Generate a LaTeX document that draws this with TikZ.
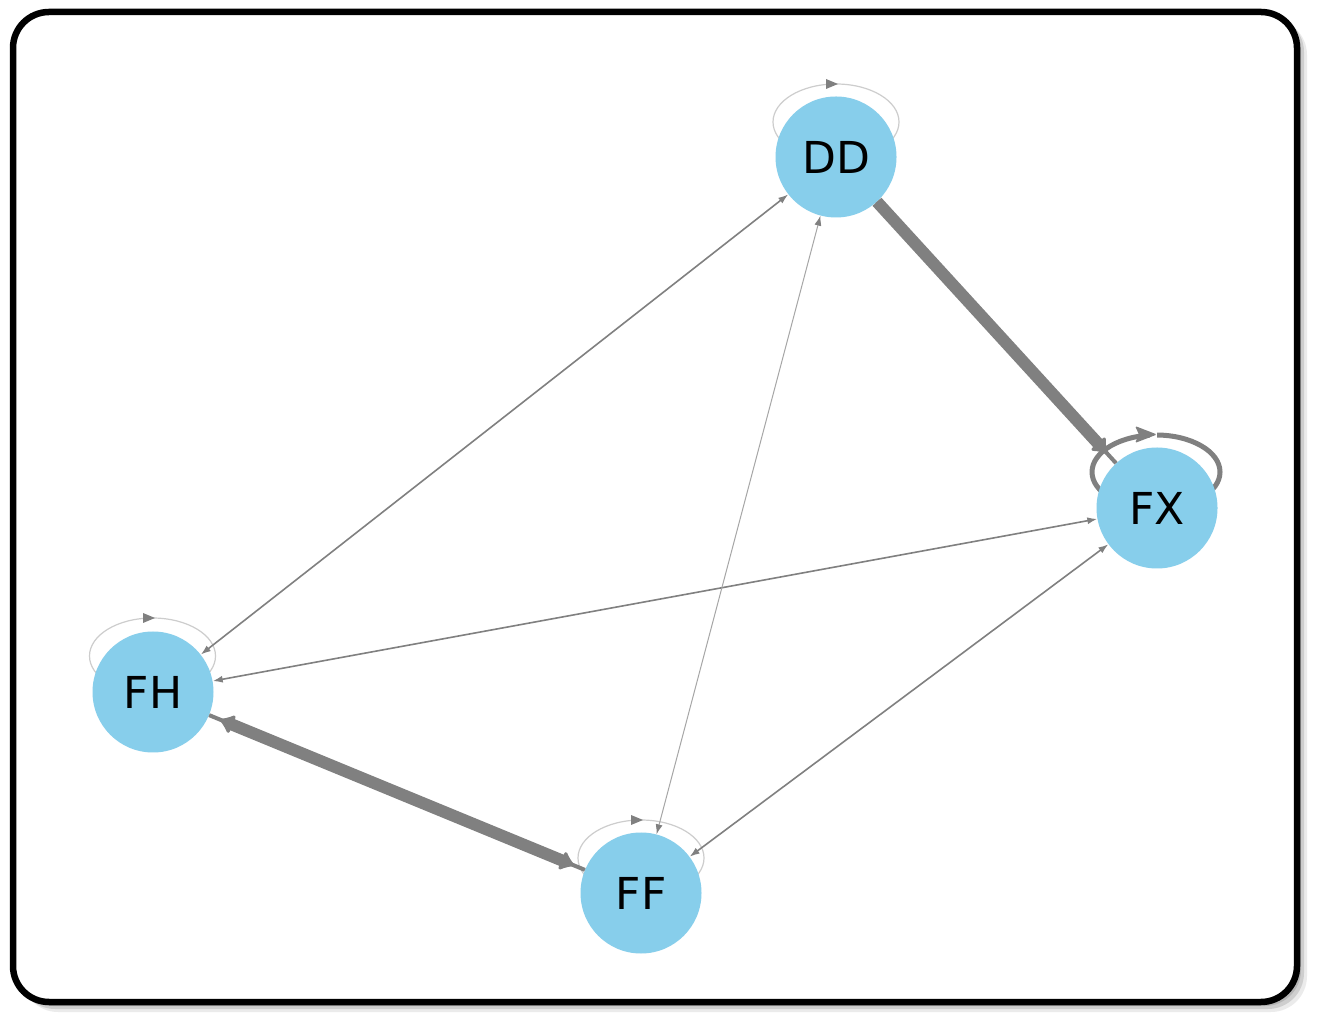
\documentclass[tikz,border=0pt]{standalone}
\usepackage{fontspec}
\setmainfont{DejaVu Sans}
\usetikzlibrary{arrows.meta}
\definecolor{nodeblue}{RGB}{135,206,235}
\definecolor{edgegray}{RGB}{128,128,128}
\definecolor{loopgray}{RGB}{205,205,205}
\tikzset{
  vertex/.style={circle, fill=nodeblue, minimum size=121pt, inner sep=0pt, font=\fontsize{44}{50}\selectfont},
  thinedge/.style={draw=edgegray, line width=1.6pt, {Latex[length=10pt,width=7pt]}-{Latex[length=10pt,width=7pt]}},
  fadededge/.style={draw=edgegray!70, line width=1pt, {Latex[length=10pt,width=7pt,color=edgegray]}-{Latex[length=10pt,width=7pt,color=edgegray]}},
  heavyedge/.style={draw=edgegray, line width=12pt},
  heavystub/.style={draw=edgegray, line width=4pt},
  heavyend/.style={-{Latex[round,length=15pt,width=24pt]}},
  heavyboth/.style={{Latex[round,length=15pt,width=24pt]}-{Latex[round,length=15pt,width=24pt]}},
  lightloop/.style={draw=loopgray, line width=1.2pt},
  looptip/.style={fill=edgegray},
}
\begin{document}
\begin{tikzpicture}[x=1pt,y=1pt]
\useasboundingbox (0,0) rectangle (1329,1033);
% frame with shadow
\fill[black,opacity=0.08,rounded corners=36pt] (22,21) rectangle (1307,1014);
\fill[black,opacity=0.12,rounded corners=36pt] (19,24) rectangle (1304,1017);
\fill[black,opacity=0.12,rounded corners=36pt] (17,27) rectangle (1301,1019);
\draw[line width=6.5pt, fill=white, rounded corners=36pt] (13,31) rectangle (1297,1021);

% node positions
\coordinate (cDD) at (836,876);
\coordinate (cFX) at (1157,525);
\coordinate (cFH) at (153,341);
\coordinate (cFF) at (641,140);

% self loops (behind nodes)
\draw[lightloop] (836,911) ellipse [x radius=63, y radius=38];
\fill[looptip] (838,949) -- (826,954) -- (826,944) -- cycle;
\draw[lightloop] (152.5,377) ellipse [x radius=63, y radius=38];
\fill[looptip] (155,415) -- (143,420) -- (143,410) -- cycle;
\draw[lightloop] (641,175) ellipse [x radius=63, y radius=38];
\fill[looptip] (643,213) -- (631,218) -- (631,208) -- cycle;
\draw[draw=edgegray, line width=5pt] (1156,561) ellipse [x radius=64, y radius=37];
\fill[white] (1150,590) rectangle (1157,608);
\fill[looptip, rounded corners=1.5pt] (1157,598.5) -- (1135,607) -- (1139,598.5) -- (1135,590) -- cycle;

% nodes
\node[vertex] (DD) at (cDD) {DD};
\node[vertex] (FX) at (cFX) {FX};
\node[vertex] (FH) at (cFH) {FH};
\node[vertex] (FF) at (cFF) {FF};

% edges
\draw[thinedge] (FH) -- (DD);
\draw[thinedge] (FH) -- (FX);
\draw[thinedge] (FF) -- (FX);
\draw[fadededge] (FF) -- (DD);
\draw[heavystub] (DD) -- (FX);
\draw[heavyedge, heavyend, shorten >=14pt] (DD) -- (FX);
\draw[heavystub] (FH) -- (FF);
\draw[heavyedge, heavyboth, shorten >=12pt, shorten <=12pt] (FH) -- (FF);
\end{tikzpicture}
\end{document}
